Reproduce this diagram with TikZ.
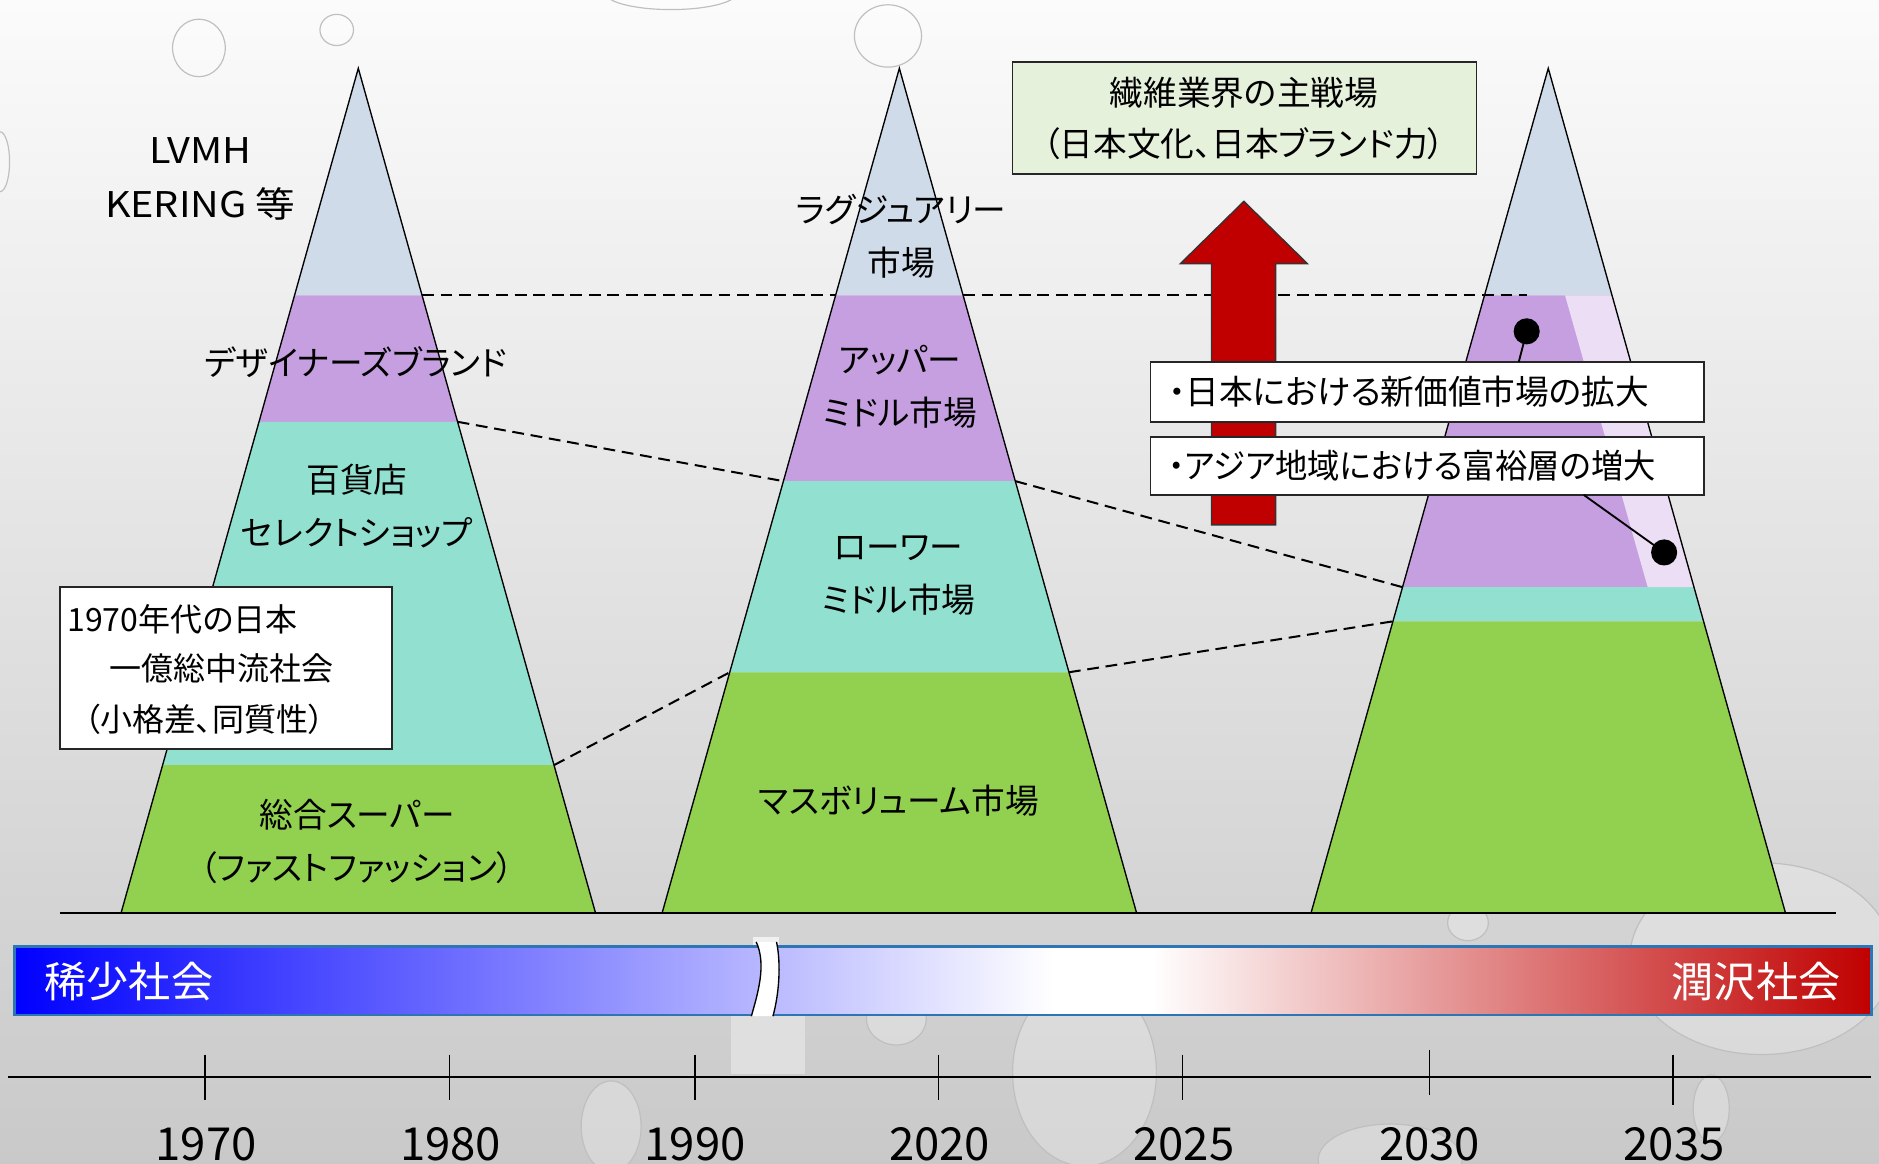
\documentclass[tikz,border=0pt]{standalone}
\usepackage{fontspec}
\setmainfont{Noto Sans CJK JP}[RawFeature=+palt]
\usetikzlibrary{fit}
\definecolor{luxc}{HTML}{CFDBE9}
\definecolor{upperc}{HTML}{C69FE0}
\definecolor{lowerc}{HTML}{92E0D0}
\definecolor{massc}{HTML}{92D050}
\definecolor{lavc}{HTML}{ECDEF5}
\definecolor{boxgreen}{HTML}{E6F1DC}
\definecolor{arrowred}{HTML}{C00000}
\definecolor{barblue}{HTML}{0000FF}
\definecolor{barred}{HTML}{C00000}
\definecolor{barline}{HTML}{2E75B6}
\definecolor{bgtop}{HTML}{FBFBFB}
\definecolor{bgbot}{HTML}{C9C9C9}
\pgfdeclarehorizontalshading{barshade}{100bp}{color(0bp)=(barblue); color(25bp)=(barblue); color(53bp)=(white); color(55.6bp)=(white); color(75bp)=(barred); color(100bp)=(barred)}
\newcommand\pyrband[4]{%
  \pgfmathsetmacro\pbA{0.280851*(#2-57)}%
  \pgfmathsetmacro\pbB{0.280851*(#3-57)}%
  \fill[#4] ({#1-\pbA},#2) -- ({#1+\pbA},#2) -- ({#1+\pbB},#3) -- ({#1-\pbB},#3) -- cycle;}
\newcommand\pyroutline[1]{\draw[pyrline] (#1,57) -- ({#1+198},762) -- ({#1-198},762) -- cycle;}
\tikzset{
  pyrline/.style={line width=0.8pt, line join=miter},
  conn/.style={line width=1.2pt, dash pattern=on 7pt off 4pt},
  ptxt/.style={font=\fontsize{20pt}{31.5pt}\selectfont, inner sep=0pt, align=center},
  btxt/.style={font=\fontsize{20pt}{30pt}\selectfont, inner sep=0pt},
  stxt/.style={font=\fontsize{19pt}{29pt}\selectfont, inner sep=0pt},
  bartxt/.style={font=\fontsize{25pt}{30pt}\selectfont, inner sep=0pt, text=white},
  ytxt/.style={font=\fontsize{27pt}{30pt}\selectfont, inner sep=0pt},
  framebox/.style={draw=black!85, line width=1pt, inner sep=0pt},
  dotn/.style={circle, fill=black, inner sep=0pt, minimum size=15.5pt},
  drop/.style={fill=white, fill opacity=0.25, draw=gray!50, line width=0.7pt},
  tick/.style={line width=0.8pt}
}
\begin{document}
\begin{tikzpicture}[x=0.025cm, y=-0.025cm]
\useasboundingbox (0,0) rectangle (1568,971);
% background
\shade[top color=bgtop, bottom color=bgbot] (0,0) rectangle (1568,971);
% water droplets
\draw[drop] (166,40) ellipse (22 and 24);
\draw[drop] (281,25) ellipse (14 and 13);
\draw[drop] (741,30) ellipse (28 and 26);
\draw[drop] (560,-6) ellipse (55 and 14);
\draw[drop] (0,135) ellipse (8 and 25);
\draw[drop] (905,895) ellipse (60 and 78);
\draw[drop] (1470,800) ellipse (110 and 80);
\draw[drop] (748,850) ellipse (25 and 22);
\draw[drop] (1225,770) ellipse (17 and 15);
\draw[drop] (510,940) ellipse (25 and 38);
\draw[drop] (1428,925) ellipse (15 and 28);
\draw[drop] (1160,968) ellipse (60 and 30);
% pyramid 1
\pyrband{299}{57}{246.5}{luxc}
\pyrband{299}{246.5}{352}{upperc}
\pyrband{299}{352}{638.5}{lowerc}
\pyrband{299}{638.5}{762}{massc}
\pyroutline{299}
% pyramid 2
\pyrband{750.5}{57}{246.5}{luxc}
\pyrband{750.5}{246.5}{401.5}{upperc}
\pyrband{750.5}{401.5}{561}{lowerc}
\pyrband{750.5}{561}{762}{massc}
\pyroutline{750.5}
% pyramid 3
\pyrband{1292}{57}{246.5}{luxc}
\pyrband{1292}{246.5}{490}{upperc}
\pyrband{1292}{490}{518.5}{lowerc}
\pyrband{1292}{518.5}{762}{massc}
\fill[lavc] (1306,246.5) -- (1345.2,246.5) -- (1413.6,490) -- (1375,490) -- cycle;
\pyroutline{1292}
% baseline
\draw[line width=1.2pt] (50,762) -- (1532,762);
% connector points
\coordinate (p1a) at (352.2,246.5);
\coordinate (p2La) at (697.3,246.5);
\coordinate (p2Ra) at (803.7,246.5);
\coordinate (p3a) at (1274,246.5);
\coordinate (p1b) at (381.9,352);
\coordinate (p2Lb) at (653.7,401.5);
\coordinate (p2Rb) at (847.3,401.5);
\coordinate (p3b) at (1170.4,490);
\coordinate (p1c) at (462.3,638.5);
\coordinate (p2Lc) at (609,561);
\coordinate (p2Rc) at (892,561);
\coordinate (p3c) at (1162.4,518.5);
\draw[conn] (p1a) -- (p2La);
\draw[conn] (p2Ra) -- (p3a);
\draw[conn] (p1b) -- (p2Lb);
\draw[conn] (p2Rb) -- (p3b);
\draw[conn] (p1c) -- (p2Lc);
\draw[conn] (p2Rc) -- (p3c);
% red arrow
\fill[arrowred, draw=black!80, line width=0.8pt] (1011,438) -- (1011,220) -- (985,220) -- (1038,168) -- (1091,220) -- (1064.5,220) -- (1064.5,438) -- cycle;
% pyramid texts
\node[ptxt, font=\fontsize{21pt}{32pt}\selectfont, xscale=1.12] (lvmh) at (167,149.5) {LVMH\\KERING 等};
\node[ptxt] (designer) at (297,302) {デザイナーズブランド};
\node[ptxt] (dept) at (298,422.5) {百貨店\\セレクトショップ};
\node[ptxt] (gms) at (298,702) {総合スーパー\\（ファストファッション）};
\node[ptxt] (luxmkt) at (752,197) {ラグジュアリー\\市場};
\node[ptxt] (uppermkt) at (751,322.5) {アッパー\\ミドル市場};
\node[ptxt] (lowermkt) at (750,480.5) {ローワー\\ミドル市場};
\node[ptxt] (massmkt) at (750,668) {マスボリューム市場};
% green box
\coordinate (g1) at (845,52);
\coordinate (g2) at (1232,145);
\node[framebox, fill=boxgreen, fit=(g1)(g2)] (mainbox) {};
\node[ptxt, font=\fontsize{20pt}{30pt}\selectfont] (maintxt) at (1038,99) {繊維業界の主戦場\\（日本文化、日本ブランド力）};
% 1970 box
\coordinate (s1) at (50,490);
\coordinate (s2) at (327,625);
\node[framebox, fill=white, fit=(s1)(s2)] (eraboxx) {};
\node[stxt, anchor=west] (era1) at (56,517) {1970年代の日本};
\node[stxt, anchor=west] (era2) at (91,558) {一億総中流社会};
\node[stxt, anchor=west] (era3) at (70,600) {（小格差、同質性）};
% trend boxes
\coordinate (b1a) at (960,302);
\coordinate (b1b) at (1422,352);
\coordinate (b2a) at (960,364.6);
\coordinate (b2b) at (1422,413);
\node[framebox, fill=white, fit=(b1a)(b1b)] (trend1) {};
\node[framebox, fill=white, fit=(b2a)(b2b)] (trend2) {};
\node[btxt, anchor=west] (trend1txt) at (975,327) {・日本における新価値市場の拡大};
\node[btxt, anchor=west, xscale=0.96] (trend2txt) at (975,389) {・アジア地域における富裕層の増大};
% dots and leader lines
\coordinate (c1) at (1267.4,302);
\coordinate (c2) at (1321.6,413);
\node[dotn] (dot1) at (1274,276.5) {};
\node[dotn] (dot2) at (1388.7,461) {};
\draw[line width=1.1pt] (dot1.center) -- (c1);
\draw[line width=1.1pt] (c2) -- (dot2.center);
% bar
\fill[gray!25] (610,848) rectangle (672,896);
\fill[gray!12] (628,782) rectangle (650,790);
\shade[shading=barshade] (12,790) rectangle (1562,847);
\draw[barline, line width=1.6pt] (12,790) rectangle (1562,847);
\fill[white] (631,786) .. controls (640,805) and (632,830) .. (627,848) -- (645,848) .. controls (650,830) and (652,805) .. (648,786) -- cycle;
\draw[line width=0.8pt] (631,786) .. controls (640,805) and (632,830) .. (627,848);
\draw[line width=0.8pt] (648,786) .. controls (652,805) and (650,830) .. (645,848);
\node[bartxt, anchor=west] (scarce) at (37,819) {稀少社会};
\node[bartxt, anchor=east] (abundant) at (1536,819) {潤沢社会};
% timeline axis
\draw[line width=1.4pt] (7,899) -- (1561,899);
\draw[tick] (171,880) -- (171,918);
\draw[tick] (375,880) -- (375,918);
\draw[tick] (580,880) -- (580,918);
\draw[tick] (783,880) -- (783,918);
\draw[tick] (987,880) -- (987,918);
\draw[tick] (1193,876) -- (1193,914);
\draw[tick] (1396,880) -- (1396,922);
\node[ytxt] (y1970) at (172,955) {1970};
\node[ytxt] (y1980) at (376,955) {1980};
\node[ytxt] (y1990) at (580,955) {1990};
\node[ytxt] (y2020) at (784,955) {2020};
\node[ytxt] (y2025) at (988,955) {2025};
\node[ytxt] (y2030) at (1193,955) {2030};
\node[ytxt] (y2035) at (1397,955) {2035};
\end{tikzpicture}
\end{document}
